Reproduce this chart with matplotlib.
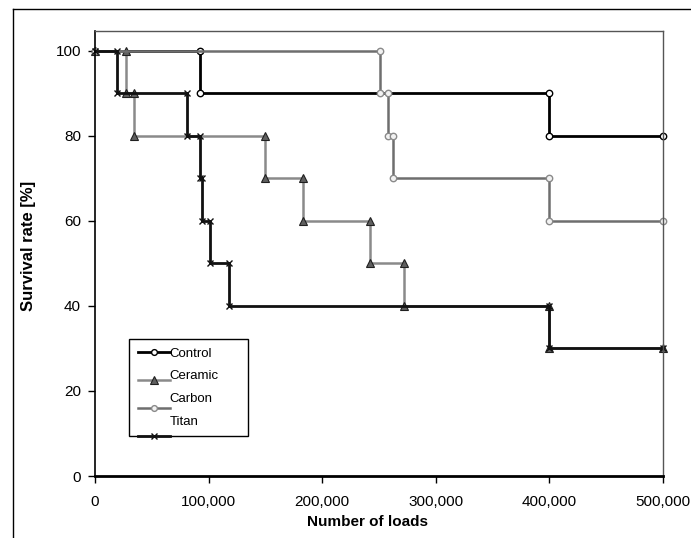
import matplotlib
matplotlib.use("Agg")
import matplotlib.pyplot as plt
from matplotlib.lines import Line2D
from matplotlib.ticker import FuncFormatter

plt.rcParams['font.family'] = ['Liberation Sans', 'DejaVu Sans']

# load count at which each drop happens, survival level before / after each drop
control_drops = [92000, 400000]
control_levels = [100, 90, 80]

ceramic_drops = [27000, 34000, 150000, 183000, 242000, 272000, 400000]
ceramic_levels = [100, 90, 80, 70, 60, 50, 40, 30]

carbon_drops = [251000, 258000, 262000, 400000]
carbon_levels = [100, 90, 80, 70, 60]

titan_drops = [19000, 81000, 92000, 94000, 101000, 118000, 400000]
titan_levels = [100, 90, 80, 70, 60, 50, 40, 30]

end_loads = 500000
x_ticks = [0, 100000, 200000, 300000, 400000, 500000]
y_ticks = [0, 20, 40, 60, 80, 100]


def step_points(drops, levels, end=end_loads):
    xs = [0]
    ys = [levels[0]]
    for i, t in enumerate(drops):
        xs += [t, t]
        ys += [levels[i], levels[i + 1]]
    xs.append(end)
    ys.append(levels[-1])
    return xs, ys


fig = plt.figure(figsize=(6.91, 5.38), dpi=100)
ax = fig.add_axes([95 / 691, 1 - 476 / 538, 568 / 691, 445 / 538])

series = [
    ("Control", control_drops, control_levels,
     dict(color="#000000", lw=2.0, marker="o", ms=4.6, mfc="white", mec="#000000", mew=1.0)),
    ("Ceramic", ceramic_drops, ceramic_levels,
     dict(color="#8a8a8a", lw=1.8, marker="^", ms=5.8, mfc="#5f5f5f", mec="#202020", mew=0.8)),
    ("Carbon", carbon_drops, carbon_levels,
     dict(color="#6e6e6e", lw=1.8, marker="o", ms=4.6, mfc="#f2f2f2", mec="#8a8a8a", mew=1.0)),
    ("Titan", titan_drops, titan_levels,
     dict(color="#111111", lw=2.0, marker="x", ms=4.5, mec="#111111", mew=1.0)),
]

handles = []
for name, drops, levels, style in series:
    xs, ys = step_points(drops, levels)
    h, = ax.plot(xs, ys, label=name, clip_on=False, **style)
    handles.append(h)

ax.set_xlim(0, 500000)
ax.set_ylim(0, 104.7)
ax.set_xticks(x_ticks)
ax.set_yticks(y_ticks)
ax.xaxis.set_major_formatter(FuncFormatter(lambda v, p: f"{int(v):,}"))
ax.tick_params(direction="out", length=5, width=1, labelsize=11, colors="#000000")
ax.tick_params(axis="x", pad=9)
ax.tick_params(axis="y", pad=5)

for side in ["top", "right"]:
    ax.spines[side].set_color("#555555")
    ax.spines[side].set_linewidth(1.0)
ax.spines["left"].set_linewidth(1.2)
ax.spines["bottom"].set_linewidth(2.0)

ax.set_xlabel("Number of loads", fontsize=11, fontweight="bold")
ax.set_ylabel("Survival rate [%]", fontsize=12, fontweight="bold")
ax.xaxis.set_label_coords(0.48, -0.088)
ax.yaxis.set_label_coords(-0.104, 0.518)

leg = ax.legend(handles=handles, loc="upper left", bbox_to_anchor=(0.0604, 0.0, 0.2085, 0.3079),
                mode="expand", borderaxespad=0, fancybox=False, framealpha=1,
                edgecolor="#000000", fontsize=9.5, handlelength=2.42, handletextpad=0.0,
                labelspacing=0.79, borderpad=0.65, markerscale=0.9)
leg.get_frame().set_linewidth(1.0)
# line samples sit progressively lower than their labels, as in the original
for i, lh in enumerate(leg.legend_handles):
    lh.set_ydata([y - 3.9 * i for y in lh.get_ydata()])

# outer chart frame (only its top and left edges fall inside the picture)
fig.add_artist(Line2D([13 / 691, 13 / 691], [0, 1 - 9 / 538], color="#000000", lw=1.0))
fig.add_artist(Line2D([13 / 691, 1], [1 - 9 / 538, 1 - 9 / 538], color="#000000", lw=1.0))

fig.savefig("out.png", dpi=100)
